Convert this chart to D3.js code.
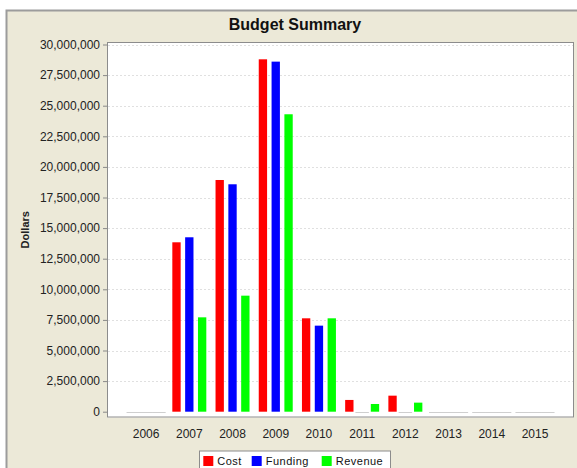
<!DOCTYPE html>
<html>
<head>
<meta charset="utf-8">
<script src="https://cdn.jsdelivr.net/npm/d3@7"></script>
<style>
  body { margin: 0; background: #fff; }
  svg text { font-family: "Liberation Sans", Arial, sans-serif; }
</style>
</head>
<body>
<div id="chart"></div>
<script>
// values
let years = ["2006", "2007", "2008", "2009", "2010", "2011", "2012", "2013", "2014", "2015"]
let seriesNames = ["Cost", "Funding", "Revenue"]
let cost    = [0, 13840000, 18930000, 28790000, 7630000, 960000, 1310000, 0, 0, 0]
let funding = [0, 14250000, 18580000, 28600000, 7030000, 0, 0, 0, 0, 0]
let revenue = [0, 7710000, 9480000, 24300000, 7630000, 630000, 740000, 0, 0, 0]
let yTickValues = [0, 2500000, 5000000, 7500000, 10000000, 12500000, 15000000,
                   17500000, 20000000, 22500000, 25000000, 27500000, 30000000]
let seriesColours = ["#ff0000", "#0000ff", "#00ff00"]

function drawBudget(){
    let width = 577
    let height = 468
    let plot = {left: 107, right: 574, top: 42, bottom: 417.5}

    let svg = d3.select("#chart")
        .append("svg")
            .attr("width", width)
            .attr("height", height)

    // beige frame
    svg.append("rect")
        .attr("x", 6.5).attr("y", 10.5)
        .attr("width", width + 20).attr("height", height + 20)
        .attr("fill", "#ece9d8")
        .attr("stroke", "#9c9c9c")
        .attr("stroke-width", 2)

    svg.append("text")
        .attr("x", 295).attr("y", 30)
        .attr("text-anchor", "middle")
        .attr("font-size", "16px")
        .attr("font-weight", "bold")
        .attr("fill", "#111")
        .text("Budget Summary")

    svg.append("rect")
        .attr("x", plot.left).attr("y", plot.top)
        .attr("width", plot.right - plot.left)
        .attr("height", plot.bottom - plot.top)
        .attr("fill", "#fff")

    let y = d3.scaleLinear()
        .domain([0, 30000000])
        .range([plot.bottom - 5.8, plot.top + 2.5])

    let x0 = d3.scaleBand()
        .domain(years)
        .range([124.5, 556.6])

    let x1 = d3.scaleBand()
        .domain(seriesNames)
        .range([0, x0.bandwidth()])
        .paddingInner(0.35)
        .paddingOuter(0.36)

    // dashed gridlines
    svg.selectAll(".grid")
        .data(yTickValues.filter(d => d > 0))
        .enter()
        .append("line")
            .attr("class", "grid")
            .attr("x1", plot.left + 1).attr("x2", plot.right - 1)
            .attr("y1", d => Math.round(y(d)) + 0.5)
            .attr("y2", d => Math.round(y(d)) + 0.5)
            .attr("stroke", "#e0e0e0")
            .attr("stroke-dasharray", "2,2")

    // y axis
    let yAxis = d3.axisLeft(y)
        .tickValues(yTickValues)
        .tickSize(4)
        .tickPadding(3)
        .tickFormat(d3.format(","))
    let yg = svg.append("g")
        .attr("transform", "translate(" + plot.left + ",0)")
        .call(yAxis)
    yg.select(".domain").remove()
    yg.selectAll(".tick line").attr("stroke", "#888")
    yg.selectAll(".tick text")
        .attr("font-size", "12px")
        .attr("fill", "#222")
        .style("font-family", "Liberation Sans, Arial, sans-serif")

    svg.append("text")
        .attr("transform", "translate(29," + ((plot.top + plot.bottom) / 2) + ") rotate(-90)")
        .attr("text-anchor", "middle")
        .attr("font-size", "11px")
        .attr("font-weight", "bold")
        .attr("fill", "#222")
        .text("Dollars")

    // x axis labels
    let xAxis = d3.axisBottom(x0).tickSize(0).tickPadding(12)
    let xg = svg.append("g")
        .attr("transform", "translate(0," + plot.bottom + ")")
        .call(xAxis)
    xg.select(".domain").remove()
    xg.selectAll(".tick text")
        .attr("font-size", "12px")
        .attr("fill", "#222")
        .style("font-family", "Liberation Sans, Arial, sans-serif")

    let seriesData = [cost, funding, revenue]
    let barData = []
    years.forEach(function(yr, i){
        seriesNames.forEach(function(s, j){
            barData.push({year: yr, series: s, value: seriesData[j][i], colour: seriesColours[j]})
        })
    })

    // zero values show as a faint line on the baseline
    svg.selectAll(".zeroBar")
        .data(barData.filter(d => d.value == 0))
        .enter()
        .append("line")
            .attr("class", "zeroBar")
            .attr("x1", d => x0(d.year) + x1(d.series) - x1.step() * 0.2)
            .attr("x2", d => x0(d.year) + x1(d.series) + x1.step() * 0.85)
            .attr("y1", Math.round(y(0)) + 0.5)
            .attr("y2", Math.round(y(0)) + 0.5)
            .attr("stroke", "#cfcfcf")

    svg.selectAll(".bar")
        .data(barData.filter(d => d.value > 0))
        .enter()
        .append("rect")
            .attr("class", "bar")
            .attr("x", d => x0(d.year) + x1(d.series))
            .attr("width", x1.bandwidth())
            .attr("y", d => y(d.value))
            .attr("height", d => y(0) - y(d.value))
            .attr("fill", d => d.colour)

    // plot border
    svg.append("rect")
        .attr("x", plot.left + 0.5).attr("y", plot.top + 0.5)
        .attr("width", plot.right - plot.left - 1)
        .attr("height", plot.bottom - plot.top - 1)
        .attr("fill", "none")
        .attr("stroke", "#8c8c8c")

    // legend
    let legend = svg.append("g").attr("transform", "translate(199,450.5)")
    legend.append("rect")
        .attr("x", 0.5).attr("y", 0.5)
        .attr("width", 191).attr("height", 30)
        .attr("fill", "#fff")
        .attr("stroke", "#8c8c8c")
    let legendX = [4.3, 52.7, 122.7]
    let items = legend.selectAll(".legendItem")
        .data(seriesNames)
        .enter()
        .append("g")
            .attr("class", "legendItem")
            .attr("transform", (d, i) => "translate(" + legendX[i] + ",0)")
    items.append("rect")
        .attr("x", 0).attr("y", 5.5)
        .attr("width", 10).attr("height", 10)
        .attr("fill", (d, i) => seriesColours[i])
    items.append("text")
        .attr("x", 14).attr("y", 14.5)
        .attr("font-size", "11px")
        .attr("letter-spacing", "0.5px")
        .attr("fill", "#111")
        .text(d => d)
}
drawBudget()
</script>
</body>
</html>
